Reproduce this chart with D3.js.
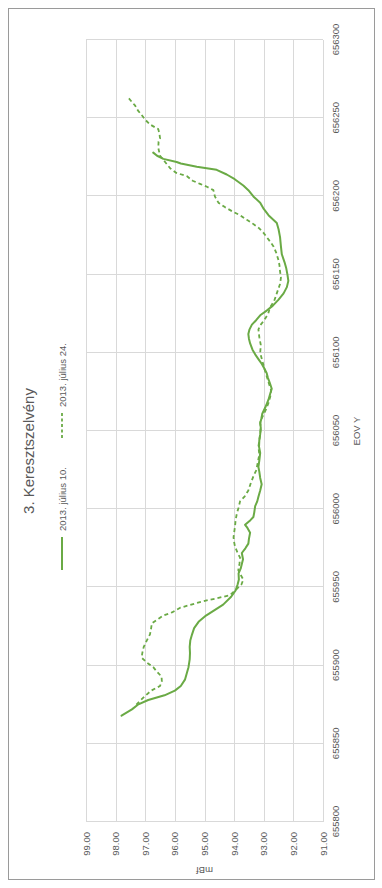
<!DOCTYPE html>
<html>
<head>
<meta charset="utf-8">
<script src="https://cdn.jsdelivr.net/npm/d3@7"></script>
<style>
  html, body { margin: 0; padding: 0; background: #fff; }
  svg { display: block; }
</style>
</head>
<body>
<script>
// Cross-section 3: water-surface elevation (mBf) along EOV Y
const chartTitle = "3. Keresztszelvény";
const seriesNames = ["2013. július 10.", "2013. július 24."];
const xTitle = "EOV Y";
const yTitle = "mBf";
const eovTicks = [655800, 655850, 655900, 655950, 656000, 656050, 656100, 656150, 656200, 656250, 656300];
const mbfTicks = [91, 92, 93, 94, 95, 96, 97, 98, 99];

// 2013. július 10.
const eovJul10 = [655868, 655872, 655875, 655878, 655881, 655884, 655887, 655891, 655895, 655899,
  655904, 655908, 655912, 655916, 655920, 655924, 655928, 655932, 655936, 655939,
  655944, 655948, 655952, 655955, 655959, 655962, 655965, 655968, 655972, 655975,
  655978, 655981, 655985, 655988, 655990, 655993, 655995, 655998, 656002, 656005,
  656008, 656012, 656016, 656020, 656024, 656027, 656031, 656036, 656040, 656044,
  656048, 656052, 656055, 656058, 656061, 656065, 656070, 656074, 656077, 656081,
  656084, 656087, 656090, 656093, 656096, 656099, 656102, 656106, 656109, 656112,
  656115, 656118, 656121, 656124, 656127, 656130, 656134, 656138, 656142, 656146,
  656150, 656154, 656158, 656163, 656168, 656174, 656179, 656183, 656188, 656192,
  656196, 656200, 656204, 656207, 656211, 656214, 656217, 656219, 656221, 656222,
  656224, 656226, 656228];
const mbfJul10 = [97.80, 97.45, 97.25, 96.90, 96.35, 96.00, 95.80, 95.66, 95.60, 95.54,
  95.50, 95.49, 95.50, 95.48, 95.42, 95.35, 95.20, 94.95, 94.62, 94.37,
  94.10, 93.95, 93.88, 93.84, 93.85, 93.78, 93.74, 93.70, 93.74, 93.62,
  93.52, 93.50, 93.46, 93.55, 93.63, 93.45, 93.35, 93.32, 93.29, 93.22,
  93.18, 93.12, 93.07, 93.12, 93.15, 93.18, 93.15, 93.12, 93.16, 93.15,
  93.12, 93.10, 93.12, 93.08, 93.05, 92.95, 92.84, 92.78, 92.73, 92.80,
  92.86, 92.90, 92.98, 93.07, 93.18, 93.29, 93.38, 93.46, 93.50, 93.52,
  93.48, 93.40, 93.25, 93.12, 92.90, 92.70, 92.50, 92.33, 92.22, 92.17,
  92.20, 92.24, 92.30, 92.39, 92.42, 92.45, 92.50, 92.56, 92.84, 93.00,
  93.12, 93.35, 93.52, 93.69, 93.98, 94.25, 94.59, 95.26, 95.80, 95.94,
  96.39, 96.60, 96.73];

// 2013. július 24.
const eovJul24 = [655875, 655878, 655881, 655884, 655887, 655890, 655893, 655896, 655899, 655902,
  655905, 655908, 655912, 655916, 655920, 655924, 655927, 655930, 655932, 655934,
  655937, 655940, 655942, 655943, 655945, 655949, 655952, 655955, 655958, 655961,
  655965, 655969, 655972, 655976, 655979, 655982, 655985, 655989, 655993, 655997,
  656001, 656005, 656008, 656012, 656016, 656021, 656025, 656030, 656035, 656040,
  656044, 656048, 656052, 656056, 656060, 656064, 656068, 656072, 656076, 656080,
  656085, 656090, 656095, 656100, 656105, 656110, 656115, 656118, 656121, 656125,
  656129, 656133, 656138, 656144, 656148, 656152, 656156, 656159, 656164, 656168,
  656171, 656174, 656177, 656180, 656183, 656185, 656188, 656190, 656193, 656196,
  656200, 656204, 656206, 656208, 656210, 656213, 656215, 656218, 656222, 656226,
  656231, 656235, 656237, 656240, 656243, 656246, 656249, 656252, 656255, 656258,
  656263];
const mbfJul24 = [97.30, 97.15, 96.98, 96.80, 96.50, 96.44, 96.45, 96.60, 96.73, 96.95,
  97.12, 97.10, 97.05, 96.95, 96.84, 96.80, 96.78, 96.55, 96.39, 96.10,
  95.82, 95.26, 94.85, 94.59, 94.14, 93.91, 93.75, 93.69, 93.78, 93.86,
  93.82, 93.80, 93.88, 93.97, 94.00, 94.02, 94.00, 93.97, 93.95, 93.91,
  93.85, 93.80, 93.65, 93.52, 93.45, 93.35, 93.25, 93.20, 93.15, 93.18,
  93.15, 93.12, 93.10, 93.12, 93.02, 92.92, 92.84, 92.78, 92.75, 92.82,
  92.90, 92.98, 93.05, 93.12, 93.10, 93.15, 93.18, 93.10, 92.98, 92.85,
  92.79, 92.65, 92.56, 92.45, 92.42, 92.45, 92.47, 92.50, 92.58, 92.67,
  92.78, 92.90, 93.02, 93.18, 93.40, 93.57, 93.80, 94.02, 94.30, 94.53,
  94.65, 94.70, 94.90, 95.15, 95.40, 95.60, 95.95, 96.16, 96.33, 96.50,
  96.56, 96.55, 96.50, 96.52, 96.56, 96.84, 97.00, 97.12, 97.25, 97.34,
  97.57];

const W = 382, H = 888;
const lineColor = "#6aaa45";
const textColor = "#595959";
const font = "'Liberation Sans', Arial, sans-serif";

const svg = d3.select("body").append("svg")
  .attr("width", W).attr("height", H);

// The chart is laid out landscape (888 wide, 382 tall) and turned a quarter turn
const g = svg.append("g").attr("transform", `translate(0,${H}) rotate(-90)`);

// chart frame
g.append("rect")
  .attr("x", 8.5).attr("y", 8.5).attr("width", 871).attr("height", 366)
  .attr("fill", "#fff").attr("stroke", "#9a9a9a").attr("stroke-width", 1);

const x = d3.scaleLinear().domain([655800, 656300]).range([66, 848]);
const y = d3.scaleLinear().domain([91, 99]).range([323, 86]);

// gridlines
const grid = g.append("g").attr("stroke", "#d9d9d9").attr("stroke-width", 1);
grid.selectAll("line.v").data(eovTicks).join("line")
  .attr("class", "v")
  .attr("x1", d => Math.round(x(d)) + 0.5).attr("x2", d => Math.round(x(d)) + 0.5)
  .attr("y1", y(99)).attr("y2", y(91));
grid.selectAll("line.h").data(mbfTicks).join("line")
  .attr("class", "h")
  .attr("x1", x(655800)).attr("x2", x(656300))
  .attr("y1", d => Math.round(y(d)) + 0.5).attr("y2", d => Math.round(y(d)) + 0.5);

// axes (labels only; the gridlines frame the plot)
const xAxis = g.append("g")
  .attr("transform", `translate(0,${y(91)})`)
  .call(d3.axisBottom(x).tickValues(eovTicks).tickSize(0).tickPadding(9).tickFormat(d3.format("d")));
const yAxis = g.append("g")
  .attr("transform", `translate(${x(655800)},0)`)
  .call(d3.axisLeft(y).tickValues(mbfTicks).tickSize(0).tickPadding(10).tickFormat(d3.format(".2f")));
[xAxis, yAxis].forEach(a => {
  a.select(".domain").remove();
  a.selectAll("text").attr("fill", textColor).style("font-family", font).style("font-size", "9.5px");
});

// axis titles
g.append("text")
  .attr("x", (x(655800) + x(656300)) / 2).attr("y", 360)
  .attr("text-anchor", "middle").attr("fill", textColor)
  .style("font-family", font).style("font-size", "9.5px")
  .text(xTitle);
g.append("text")
  .attr("transform", `translate(21,${(y(91) + y(99)) / 2}) rotate(-90)`)
  .attr("text-anchor", "middle").attr("fill", textColor)
  .style("font-family", font).style("font-size", "9.5px")
  .text(yTitle);

// title
g.append("text")
  .attr("x", 437).attr("y", 34)
  .attr("text-anchor", "middle").attr("fill", textColor)
  .style("font-family", font).style("font-size", "15px")
  .text(chartTitle);

// series
const line = d3.line().x(d => x(d[0])).y(d => y(d[1]));
const s10 = d3.zip(eovJul10, mbfJul10);
const s24 = d3.zip(eovJul24, mbfJul24);

g.append("path").datum(s10)
  .attr("d", line).attr("fill", "none")
  .attr("stroke", lineColor).attr("stroke-width", 2)
  .attr("stroke-linejoin", "round").attr("stroke-linecap", "round");
g.append("path").datum(s24)
  .attr("d", line).attr("fill", "none")
  .attr("stroke", lineColor).attr("stroke-width", 1.8)
  .attr("stroke-dasharray", "4,3")
  .attr("stroke-linejoin", "round");

// legend
const legend = g.append("g");
const items = [
  { name: seriesNames[0], x0: 318, x1: 351, tx: 357, dash: null, w: 2 },
  { name: seriesNames[1], x0: 450, x1: 477, tx: 481, dash: "3,2.5", w: 1.8 }
];
items.forEach(it => {
  legend.append("line")
    .attr("x1", it.x0).attr("x2", it.x1).attr("y1", 62).attr("y2", 62)
    .attr("stroke", lineColor).attr("stroke-width", it.w)
    .attr("stroke-dasharray", it.dash);
  legend.append("text")
    .attr("x", it.tx).attr("y", 65.5)
    .attr("fill", textColor)
    .style("font-family", font).style("font-size", "9.5px")
    .text(it.name);
});
</script>
</body>
</html>
